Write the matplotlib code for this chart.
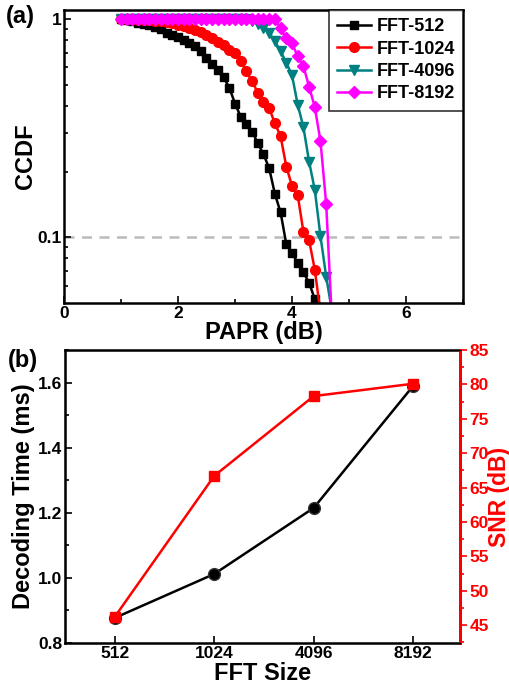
import matplotlib
matplotlib.use("Agg")
import matplotlib.pyplot as plt
from matplotlib.ticker import FixedLocator, MultipleLocator, NullFormatter

plt.rcParams["font.family"] = ["Liberation Sans", "DejaVu Sans"]
plt.rcParams["font.weight"] = "bold"
plt.rcParams["axes.labelweight"] = "bold"

# ---- panel (a): CCDF of PAPR ----
papr = [1.0, 1.1, 1.2, 1.3, 1.4, 1.5, 1.6, 1.7, 1.8, 1.9,
        2.0, 2.1, 2.2, 2.3, 2.4, 2.5, 2.6, 2.7, 2.8, 2.9,
        3.0, 3.1, 3.2, 3.3, 3.4, 3.5, 3.6, 3.7, 3.8, 3.9,
        4.0, 4.1, 4.2, 4.3, 4.4, 4.5, 4.6, 4.7]

ccdf_512 = [1.0, 0.99, 0.975, 0.958, 0.947, 0.938, 0.92, 0.90, 0.865, 0.845,
            0.825, 0.80, 0.78, 0.75, 0.71, 0.665, 0.625, 0.585, 0.54, 0.485,
            0.41, 0.357, 0.33, 0.305, 0.27, 0.24, 0.207, 0.158, 0.13, 0.093,
            0.085, 0.076, 0.069, 0.062, 0.052, 0.042]
ccdf_1024 = [1.0, 1.0, 0.998, 0.995, 0.99, 0.986, 0.982, 0.976, 0.968, 0.955,
             0.94, 0.925, 0.908, 0.89, 0.875, 0.845, 0.818, 0.785, 0.758, 0.722,
             0.697, 0.642, 0.575, 0.518, 0.46, 0.418, 0.39, 0.333, 0.29, 0.211,
             0.172, 0.156, 0.106, 0.097, 0.071, 0.045]
ccdf_4096 = [1.0, 1.0, 1.0, 1.0, 1.0, 1.0, 1.0, 1.0, 1.0, 1.0,
             1.0, 1.0, 1.0, 1.0, 1.0, 1.0, 1.0, 1.0, 1.0, 1.0,
             1.0, 1.0, 1.0, 0.975, 0.945, 0.91, 0.865, 0.79, 0.712, 0.63,
             0.554, 0.405, 0.32, 0.222, 0.165, 0.101, 0.066, 0.046]
ccdf_8192 = [1.0, 1.0, 1.0, 1.0, 1.0, 1.0, 1.0, 1.0, 1.0, 1.0,
             1.0, 1.0, 1.0, 1.0, 1.0, 1.0, 1.0, 1.0, 1.0, 1.0,
             1.0, 1.0, 1.0, 1.0, 1.0, 1.0, 1.0, 1.0, 0.905, 0.815,
             0.774, 0.675, 0.608, 0.49, 0.395, 0.275, 0.142, 0.042]

# ---- panel (b): decoding time and SNR vs FFT size ----
fft_sizes = ["512", "1024", "4096", "8192"]
decode_ms = [0.877, 1.012, 1.215, 1.59]
snr_db = [46.2, 66.7, 78.3, 80.1]

TEAL = "#008080"
MAG = "#ff00ff"

fig = plt.figure(figsize=(5.1, 6.85), dpi=100)

ax = fig.add_axes([64 / 510, 1 - 303 / 685, 399 / 510, 293 / 685])
series = [("FFT-512", ccdf_512, "black", "s", 6),
          ("FFT-1024", ccdf_1024, "red", "o", 7),
          ("FFT-4096", ccdf_4096, TEAL, "v", 7.5),
          ("FFT-8192", ccdf_8192, MAG, "D", 6)]
for name, vals, c, m, ms in series:
    ax.plot(papr[:len(vals)], vals, color=c, marker=m, ms=ms, lw=1.8,
            label=name)
ax.axhline(0.1, color="#bbbbbb", lw=1.8, ls=(0, (4, 3)), zorder=0)
ax.set_yscale("log")
ax.set_xlim(0, 7)
ax.set_ylim(0.05, 1.1)
ax.xaxis.set_major_locator(FixedLocator([0, 2, 4, 6]))
ax.xaxis.set_minor_locator(FixedLocator([1, 3, 5, 7]))
ax.yaxis.set_major_locator(FixedLocator([0.1, 1]))
ax.yaxis.set_minor_locator(FixedLocator([0.06, 0.07, 0.08, 0.09, 0.2, 0.3, 0.4,
                                         0.5, 0.6, 0.7, 0.8, 0.9]))
ax.yaxis.set_minor_formatter(NullFormatter())
ax.set_yticklabels(["0.1", "1"])
ax.tick_params(which="both", direction="in", labelsize=12.5, width=1.2)
ax.tick_params(which="major", length=5, pad=2)
ax.tick_params(which="minor", length=3)
for s in ax.spines.values():
    s.set_linewidth(1.8)
ax.set_xlabel("PAPR (dB)", fontsize=17, labelpad=0)
ax.set_ylabel("CCDF", fontsize=17)
ax.yaxis.set_label_coords(-0.068, 0.5)
leg = ax.legend(loc="upper right", fontsize=13, frameon=True, fancybox=False,
                borderaxespad=0, handlelength=1.9, handletextpad=0.3,
                labelspacing=0.3, borderpad=0.45)
leg.get_frame().set_edgecolor("black")
leg.get_frame().set_linewidth(1.2)
fig.text(6 / 510, 1 - 17 / 685, "(a)", fontsize=17, weight="bold", va="center")

# bottom panel
bx = fig.add_axes([65 / 510, 1 - 643 / 685, 395 / 510, 293 / 685])
pos = list(range(len(fft_sizes)))
bx.plot(pos, decode_ms, color="black", marker="o", ms=8.5, lw=1.8,
        mec="#333333", mfc="black")
bx.set_xlim(-0.5, 3.47)
bx.set_ylim(0.8, 1.7)
bx.set_xticks(pos)
bx.set_xticklabels(fft_sizes)
bx.yaxis.set_major_locator(MultipleLocator(0.2))
bx.yaxis.set_minor_locator(MultipleLocator(0.1))
bx.set_yticklabels([f"{v:.1f}" for v in bx.get_yticks()])
bx.tick_params(which="both", direction="in", labelsize=12.5, width=1.2)
bx.tick_params(which="major", length=5, pad=2)
bx.tick_params(which="minor", length=3)
for s in bx.spines.values():
    s.set_linewidth(1.8)
bx.set_xlabel("FFT Size", fontsize=17, labelpad=1)
bx.set_ylabel("Decoding Time (ms)", fontsize=17)
bx.yaxis.set_label_coords(-0.076, 0.5)

rx = bx.twinx()
rx.plot(pos, snr_db, color="red", marker="s", ms=7.5, lw=1.8)
rx.set_ylim(42.4, 85)
rx.yaxis.set_major_locator(MultipleLocator(5))
rx.yaxis.set_minor_locator(MultipleLocator(2.5))
rx.tick_params(which="both", direction="out", colors="red", labelsize=12.5, width=1.2)
rx.tick_params(which="major", length=5, pad=2)
rx.tick_params(which="minor", length=3)
rx.spines["right"].set_color("red")
rx.spines["right"].set_linewidth(1.8)
rx.set_ylabel("SNR (dB)", fontsize=16.5, color="red")
rx.yaxis.set_label_coords(1.07, 0.5)
for t in rx.get_yticklabels():
    t.set_fontweight("bold")
fig.text(8 / 510, 1 - 360 / 685, "(b)", fontsize=17, weight="bold", va="center")

fig.savefig("out.png", dpi=100)
